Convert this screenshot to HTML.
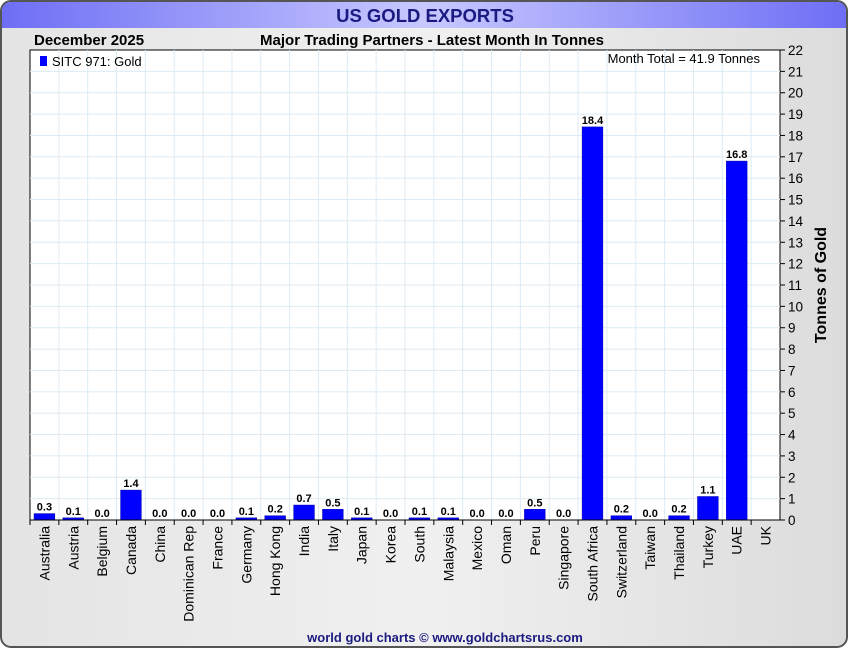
<!DOCTYPE html>
<html><head><meta charset="utf-8"><style>
body{margin:0;width:850px;height:650px;overflow:hidden;background:#fff;font-family:"Liberation Sans",sans-serif}
</style></head><body>
<svg width="850" height="650" xmlns="http://www.w3.org/2000/svg" id="chart">
<defs>
<linearGradient id="bg" x1="0" x2="1" y1="0" y2="0"><stop offset="0" stop-color="#e4e4e4"/><stop offset="0.5" stop-color="#f0f0f0"/><stop offset="1" stop-color="#dcdcdc"/></linearGradient>
<linearGradient id="tb" x1="0" x2="1" y1="0" y2="0"><stop offset="0" stop-color="#6e6ef5"/><stop offset="0.5" stop-color="#c8c8ff"/><stop offset="1" stop-color="#6e6ef5"/></linearGradient>
</defs>
<rect x="1" y="1" width="846" height="646" rx="10" fill="url(#bg)" stroke="#555" stroke-width="2"/>
<path d="M2,28 L2,12 Q2,2 12,2 L836,2 Q846,2 846,12 L846,28 Z" fill="url(#tb)"/>
<text x="425" y="22" text-anchor="middle" font-size="18.5" font-weight="bold" fill="#1a1a80">US GOLD EXPORTS</text>
<text x="34" y="45" font-size="15" font-weight="bold" fill="#000">December 2025</text>
<text x="432" y="45" text-anchor="middle" font-size="15" font-weight="bold" fill="#000">Major Trading Partners - Latest Month In Tonnes</text>
<rect x="30" y="50" width="750" height="470" fill="#fff" stroke="#000"/>
<g id="grid"></g><g id="bars"></g><g id="axis"></g>
<rect x="40" y="56" width="7" height="10" fill="#0000ff"/>
<text x="52" y="66" font-size="13" fill="#000">SITC 971: Gold</text>
<text x="760" y="63" text-anchor="end" font-size="13" fill="#000">Month Total = 41.9 Tonnes</text>
<text transform="translate(826,285) rotate(-90)" text-anchor="middle" font-size="16" font-weight="bold" fill="#000">Tonnes of Gold</text>
<text x="445" y="642" text-anchor="middle" font-size="13" font-weight="bold" fill="#1a1a80">world gold charts © www.goldchartsrus.com</text>
</svg>
<script>
const categories=["Australia","Austria","Belgium","Canada","China","Dominican Rep","France","Germany","Hong Kong","India","Italy","Japan","Korea","South","Malaysia","Mexico","Oman","Peru","Singapore","South Africa","Switzerland","Taiwan","Thailand","Turkey","UAE","UK"];
const values=[0.3,0.1,0.0,1.4,0.0,0.0,0.0,0.1,0.2,0.7,0.5,0.1,0.0,0.1,0.1,0.0,0.0,0.5,0.0,18.4,0.2,0.0,0.2,1.1,16.8,null];
const yTicks=[0,1,2,3,4,5,6,7,8,9,10,11,12,13,14,15,16,17,18,19,20,21,22];
const NS="http://www.w3.org/2000/svg";
const L=30,R=780,T=50,B=520,YMAX=22;
const step=(R-L)/categories.length;
const y=v=>B-(v/YMAX)*(B-T);
const x=i=>L+i*step;
function mk(t,a,p){const e=document.createElementNS(NS,t);for(const k in a)e.setAttribute(k,a[k]);p.appendChild(e);return e;}
const grid=document.getElementById('grid'),bars=document.getElementById('bars'),axis=document.getElementById('axis');
yTicks.forEach(t=>{
  if(t>0&&t<YMAX){const g=mk('line',{x1:L,x2:R,y1:y(t),y2:y(t),stroke:'#dcebf5'},grid);
  
  }
  const tk=mk('line',{x1:R,x2:R+5,y1:y(t),y2:y(t),stroke:'#000'},axis);
  
  
  const lb=mk('text',{x:R+8,y:y(t)+5,'font-size':13.5,fill:'#000'},axis);lb.textContent=t;
  
  
});
categories.forEach((c,i)=>{
  if(i>0){const g=mk('line',{x1:x(i),x2:x(i),y1:T,y2:B,stroke:'#dcebf5'},grid);
  
  }
  const tk=mk('line',{x1:x(i),x2:x(i),y1:B,y2:B+5,stroke:'#000'},axis);
  
  
  const cx=x(i)+step/2;
  const lb=mk('text',{transform:`translate(${cx+5},${B+6}) rotate(-90)`,'text-anchor':'end','font-size':14,fill:'#000'},axis);lb.textContent=c;
  
  
  const v=values[i];
  if(v!==null){
    const h=Math.max(B-y(v),0);
    const bw=step*0.72;
    if(h>0){const b=mk('rect',{x:cx-bw/2,y:y(v),width:bw,height:h,fill:'#0000ff',stroke:'#0000aa','stroke-width':0.5},bars);
    
    }
    const t=mk('text',{x:cx,y:y(v)-3,'text-anchor':'middle','font-size':11,'font-weight':'bold',fill:'#000'},bars);
    t.textContent=v.toFixed(1);
    
    
  }
});
const ax=mk('line',{x1:L,x2:R,y1:B,y2:B,stroke:'#000'},axis);


</script>
</body></html>
